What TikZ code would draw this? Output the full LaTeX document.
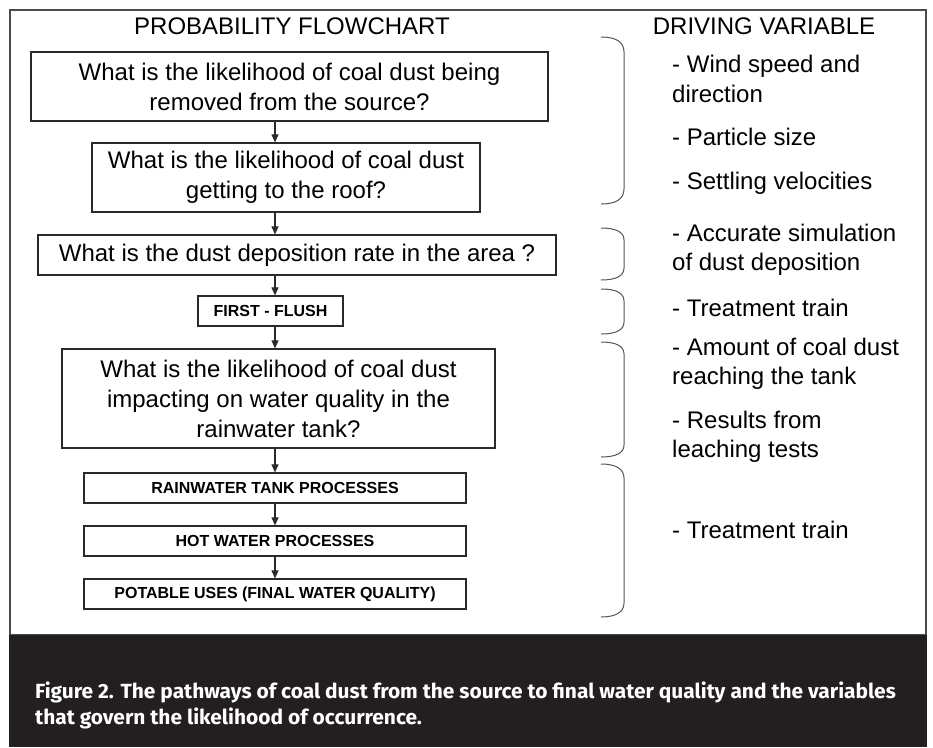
\documentclass[tikz,border=0pt]{standalone}
\usepackage{fontspec}
\setmainfont{Liberation Sans}
\newfontfamily\capfont{Fira Sans}[FakeStretch=1.02]
\usetikzlibrary{arrows.meta}
\definecolor{framegray}{HTML}{4A4A4A}
\definecolor{bandcol}{HTML}{231F20}
\definecolor{linecol}{HTML}{2A2A2A}
\tikzset{
  qbox/.style={draw=linecol, line width=1.2pt, fill=white, inner sep=0pt, align=center,
    font=\fontsize{24}{30}\selectfont},
  pbox/.style={draw=linecol, line width=1.2pt, fill=white, inner sep=0pt, align=center,
    minimum width=382pt, minimum height=30pt, font=\fontsize{16}{19}\selectfont\bfseries},
  arr/.style={draw=linecol, line width=1.1pt, -{Triangle[length=8pt,width=7pt]}},
  brc/.style={draw=linecol!80, line width=1pt},
  head/.style={font=\fontsize{24}{30}\selectfont, anchor=base, inner sep=0pt},
  var/.style={font=\fontsize{24}{30}\selectfont, anchor=base west, inner sep=0pt},
  captxt/.style={font=\capfont\bfseries\fontsize{20.5}{26}\selectfont, text=white, anchor=base west, inner sep=0pt}
}
\begin{document}
\begin{tikzpicture}[x=1pt, y=-1pt]
\useasboundingbox (0,0) rectangle (933,747);
% frame and caption band
\draw[framegray, line width=2pt] (10,10) rectangle (926,635);
\fill[bandcol] (9,635) rectangle (927,747);

% headings
\node[head] (h1) at (292,34) {PROBABILITY FLOWCHART};
\node[head] (h2) at (764,34) {DRIVING VARIABLE};

% flowchart boxes
\node[qbox, minimum width=517pt, minimum height=69pt] (b1) at (289.5,86.5)
  {What is the likelihood of coal dust being\\removed from the source?};
\node[qbox, minimum width=388pt, minimum height=69pt] (b2) at (286,177.5)
  {What is the likelihood of coal dust\\getting to the roof?};
\node[qbox, minimum width=518pt, minimum height=40pt] (b3) at (297,255)
  {What is the dust deposition rate in the area ?};
\node[pbox, minimum width=145pt] (b4) at (270.5,311) {FIRST - FLUSH};
\node[qbox, minimum width=433pt, minimum height=99pt] (b5) at (278.5,398.5)
  {What is the likelihood of coal dust\\impacting on water quality in the\\rainwater tank?};
\node[pbox] (b6) at (275,488) {RAINWATER TANK PROCESSES};
\node[pbox] (b7) at (275,541) {HOT WATER PROCESSES};
\node[pbox] (b8) at (275,594) {POTABLE USES (FINAL WATER QUALITY)};

% connectors
\coordinate (ax) at (275,0);
\draw[arr] (b1.south -| ax) -- (b2.north -| ax);
\draw[arr] (b2.south -| ax) -- (b3.north -| ax);
\draw[arr] (b3.south -| ax) -- (b4.north -| ax);
\draw[arr] (b4.south -| ax) -- (b5.north -| ax);
\draw[arr] (b5.south -| ax) -- (b6.north -| ax);
\draw[arr] (b6.south -| ax) -- (b7.north -| ax);
\draw[arr] (b7.south -| ax) -- (b8.north -| ax);

% braces
\draw[brc] (601,37) .. controls (616,37) and (624,42) .. (624,52) -- (624,189) .. controls (624,199) and (616,204) .. (601,204);
\draw[brc] (601,228) .. controls (616,228) and (624,232) .. (624,240) -- (624,268) .. controls (624,276) and (616,280) .. (601,280);
\draw[brc] (601,289) .. controls (616,289) and (624,293) .. (624,301) -- (624,322) .. controls (624,330) and (616,334) .. (601,334);
\draw[brc] (601,342) .. controls (616,342) and (624,346) .. (624,354) -- (624,445) .. controls (624,453) and (616,457) .. (601,457);
\draw[brc] (601,464) .. controls (616,464) and (624,469) .. (624,478) -- (624,603) .. controls (624,612) and (616,617) .. (601,617);

% driving variables
\node[var] (v1) at (672,72) {- Wind speed and};
\node[var] (v1b) at (672,102) {direction};
\node[var] (v2) at (672,145) {- Particle size};
\node[var] (v3) at (672,189) {- Settling velocities};
\node[var] (v4) at (672,241) {- Accurate simulation};
\node[var] (v4b) at (672,270) {of dust deposition};
\node[var] (v5) at (672,316) {- Treatment train};
\node[var] (v6) at (672,355) {- Amount of coal dust};
\node[var] (v6b) at (672,384) {reaching the tank};
\node[var] (v7) at (672,428) {- Results from};
\node[var] (v7b) at (672,457) {leaching tests};
\node[var] (v8) at (672,538) {- Treatment train};

% caption
\node[captxt] (c1) at (35,698) {Figure 2. The pathways of coal dust from the source to final water quality and the variables};
\node[captxt] (c2) at (35,724) {that govern the likelihood of occurrence.};
\end{tikzpicture}
\end{document}
